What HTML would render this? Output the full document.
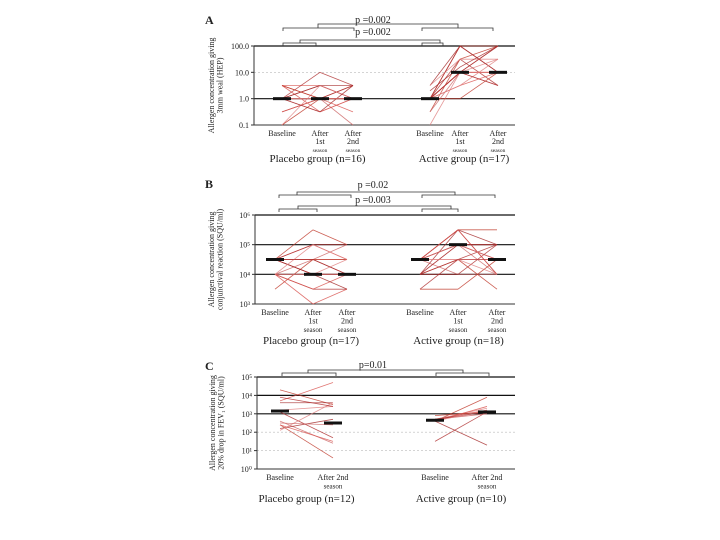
<!DOCTYPE html>
<html><head><meta charset="utf-8"><style>
body{margin:0;background:#fff}
svg{display:block;font-family:"Liberation Serif",serif}
</style></head><body>
<svg id="fig" width="720" height="540" viewBox="0 0 720 540" xmlns="http://www.w3.org/2000/svg"></svg>
<script>
// ---------- Data (log10 values) ----------
const catsA = ["Baseline","After|1st|season","After|2nd|season"];
const ticksA = ["100.0","10.0","1.0","0.1"];
const placeboA = [[0.5,0,0.5],[0.5,0.5,0],[0,0.5,0.5],[0,-0.5,0],[-0.5,0,0.5],[0,0,-1],[-1,0,0],[0.5,-0.5,0],[0,0.5,0],[-1,0.5,0],[0,1,0.5],[0,0,0],[0.5,0,0],[-0.5,0,-0.5],[0,-0.5,0.5],[0,0,0]];
const activeA = [[0,2,2],[0,1,2],[0.5,2,1],[-1,1,1.5],[0,1.5,0.5],[0,1,1],[-0.5,1.5,2],[0,0.5,1],[0,1,2],[0.5,1.5,1.5],[0,2,1],[-0.5,1,0.5],[0,0,1],[0,1,1],[0.3,1.2,2],[0,0.5,1.5],[0,1,0.5]];
const medA = [[0,0,0],[0,1,1]];

const catsB = ["Baseline","After|1st|season","After|2nd|season"];
const ticksB = ["10\u2076","10\u2075","10\u2074","10\u00b3"];
const placeboB = [[4.5,5.5,5],[4.5,5,4.5],[4.5,4.5,4],[4.5,4,4],[4,3.5,3.5],[4,4.5,5],[3.5,4.5,4.5],[4,3,3.5],[4.5,4,4],[4,4,4.5],[4.5,5,5],[4,4,4],[4.5,4.5,4.5],[4,3.5,4],[4.5,4,3.5],[4,5,4.5],[4.5,4.5,4]];
const activeB = [[4.5,5.5,5.5],[4.5,5,5],[4.5,5.5,4],[4,5,4.5],[3.5,4.5,5],[4.5,4,4],[4,4.5,3.5],[4.5,5,4.5],[4,5.5,5],[4.5,4.5,4.5],[4,4,5],[4.5,5,4],[3.5,3.5,4.5],[4.5,5.5,4],[4,5,5],[4.5,4.5,4],[4,4.5,4.5],[4.5,5,4.5]];
const medB = [[4.5,4,4],[4.5,5,4.5]];

const catsC = ["Baseline","After 2nd|season"];
const ticksC = ["10\u2075","10\u2074","10\u00b3","10\u00b2","10\u00b9","10\u2070"];
const placeboC = [[4.3,3.5],[3.7,4.7],[3.6,3.6],[3.2,3.4],[3.1,1.7],[2.6,1.4],[2.4,0.6],[2.4,1.5],[2.2,2.7],[2.1,3.6],[3.9,3.4],[2.5,2.4]];
const activeC = [[2.6,3.9],[2.7,3.2],[2.6,1.3],[2.7,3.3],[1.5,3.1],[2.7,3],[2.9,3.1],[2.6,3.4],[2.7,3.1],[2.6,3.2]];
const medC = [[3.15,2.5],[2.65,3.1]];

const svg = document.getElementById('fig');
const NS = "http://www.w3.org/2000/svg";
function mk(tag, attrs, parent){const e=document.createElementNS(NS,tag);for(const k in attrs)e.setAttribute(k,attrs[k]);(parent||svg).appendChild(e);return e;}
function txt(x,y,s,size,anchor,parent){const t=mk('text',{x:x,y:y,'font-size':size,'text-anchor':anchor||'middle',fill:'#222'},parent);t.textContent=s;return t;}
const reds=['#c0392b','#d9534f','#a52a2a','#e08080','#b03030','#cc6666'];

function panel(o){
  const g=mk('g',{});
  
  
  const y=v=>o.yTop+(o.vTop-v)*(o.yBot-o.yTop)/(o.vTop-o.vBot);
  const L=txt(205,o.letterY,o.letter,12,'start',g); L.setAttribute('font-weight','bold');
  
  
  o.ticks.forEach((t,i)=>{
    const v=o.vTop-i*o.step;
    const major=o.major.includes(i);
    mk('line',{x1:o.x0,x2:o.x1,y1:y(v),y2:y(v),stroke:major?'#111':'#bbb','stroke-width':major?1.2:0.6,'stroke-dasharray':major?'':'2,2'},g);
    mk('line',{x1:o.x0-3,x2:o.x0,y1:y(v),y2:y(v),stroke:'#333'},g);
    const tl=txt(o.x0-5,y(v)+3,t,8,'end',g);
    
    
  });
  mk('line',{x1:o.x0,x2:o.x0,y1:o.yTop,y2:o.yBot,stroke:'#333'},g);
  mk('line',{x1:o.x0,x2:o.x1,y1:o.yBot,y2:o.yBot,stroke:'#333'},g);
  [[o.plac,o.xs[0]],[o.act,o.xs[1]]].forEach(([data,xs])=>{
    data.forEach((s,si)=>{
      for(let k=0;k<s.length-1;k++){
        const ln=mk('line',{x1:xs[k],y1:y(s[k]),x2:xs[k+1],y2:y(s[k+1]),stroke:reds[si%reds.length],'stroke-width':0.8,opacity:0.8},g);
        
        
      }
    });
  });
  o.med.forEach((m,gi)=>m.forEach((v,k)=>{
    const r=mk('rect',{x:o.xs[gi][k]-9,y:y(v)-1.5,width:18,height:3,fill:'#111'},g);
    
    
  }));
  o.xs.forEach(xs=>xs.forEach((x,k)=>{
    o.cats[k].split('|').forEach((p,j)=>{
      const small = j==2||(o.cats.length==2&&j==1);
      const t=txt(x,o.yBot+11+j*o.lh,p,small?o.smallFs:8,'middle',g);
      
      
    });
  }));
  const gp=txt((o.xs[0][0]+o.xs[0][o.xs[0].length-1])/2,o.groupY,o.gLabels[0],11,'middle',g);
  
  const ga=txt((o.xs[1][0]+o.xs[1][o.xs[1].length-1])/2,o.groupY,o.gLabels[1],11,'middle',g);
  
  const yt=mk('text',{transform:`translate(${o.ytX},${(o.yTop+o.yBot)/2}) rotate(-90)`,'font-size':8,'text-anchor':'middle',fill:'#222'},g);
  
  o.ytitle.forEach((s,i)=>{const ts=mk('tspan',{x:0,dy:i?8.5:0},yt);ts.textContent=s;});
  o.brackets.forEach(b=>{
    const p=mk('path',{d:b.d,fill:'none',stroke:'#333','stroke-width':0.8},g);
    
  });
  o.pvals.forEach(pv=>{const t=txt(pv[0],pv[1],pv[2],10,'middle',g);});
}
function br(x1,x2,y1,top){return `M${x1},${y1} V${top} H${x2} V${y1}`;}

panel({name:'panel-a',letter:'A',letterY:24,x0:254,x1:515,yTop:46,yBot:125,vTop:2,vBot:-1,step:1,major:[0,2],
  ticks:ticksA,cats:catsA,xs:[[282,320,353],[430,460,498]],plac:placeboA,act:activeA,med:medA,lh:8,smallFs:5.5,
  groupY:162,gLabels:["Placebo group (n=16)","Active group (n=17)"],ytX:214,ytitle:["Allergen concentration giving","3mm weal (HEP)"],
  brackets:[{d:br(283,316,46,43)},{d:br(422,443,46,43)},{d:br(300,440,43,40)},{d:br(283,354,31,28)},{d:br(422,493,31,28)},{d:br(318,458,28,24)}],
  pvals:[[373,23,"p =0.002"],[373,35,"p =0.002"]]});

panel({name:'panel-b',letter:'B',letterY:188,x0:255,x1:515,yTop:215,yBot:304,vTop:6,vBot:3,step:1,major:[0,1,2],
  ticks:ticksB,cats:catsB,xs:[[275,313,347],[420,458,497]],plac:placeboB,act:activeB,med:medB,lh:8.5,smallFs:7,
  groupY:344,gLabels:["Placebo group (n=17)","Active group (n=18)"],ytX:214,ytitle:["Allergen concentration giving","conjunctival reaction (SQU/ml)"],
  brackets:[{d:br(279,317,212,209)},{d:br(422,458,212,209)},{d:br(298,451,209,206)},{d:br(279,351,198,195)},{d:br(422,495,198,195)},{d:br(297,455,195,192)}],
  pvals:[[373,188,"p =0.02"],[373,203,"p =0.003"]]});

panel({name:'panel-c',letter:'C',letterY:370,x0:257,x1:515,yTop:377,yBot:469,vTop:5,vBot:0,step:1,major:[0,1,2],
  ticks:ticksC,cats:catsC,xs:[[280,333],[435,487]],plac:placeboC,act:activeC,med:medC,lh:8.5,smallFs:7,
  groupY:502,gLabels:["Placebo group (n=12)","Active group (n=10)"],ytX:215,ytitle:["Allergen concentration giving","20% drop in FEV\u2081 (SQU/ml)"],
  brackets:[{d:br(282,336,376,373)},{d:br(436,489,376,373)},{d:br(308,463,373,370)}],
  pvals:[[373,368,"p=0.01"]]});
</script>
</body></html>
